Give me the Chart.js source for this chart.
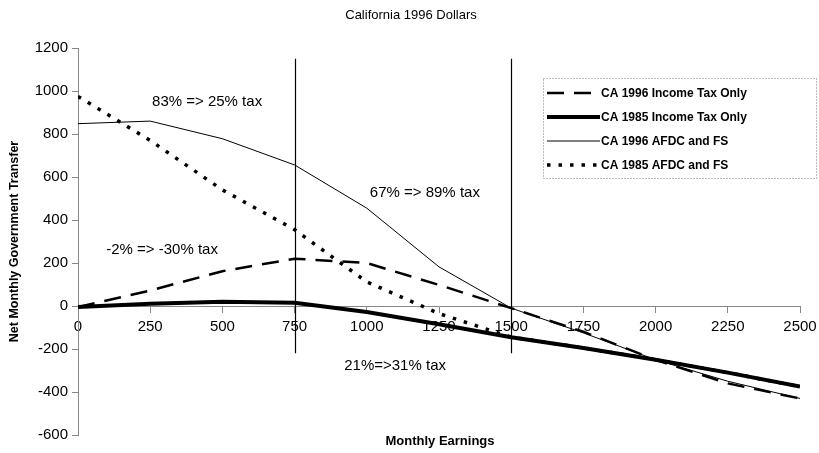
<!DOCTYPE html>
<html>
<head>
<meta charset="utf-8">
<script src="https://cdn.jsdelivr.net/npm/chart.js@4.4.1/dist/chart.umd.min.js"></script>
<style>
  html, body { margin: 0; padding: 0; background: #fff; }
  #wrap { width: 819px; height: 453px; position: relative; }
</style>
</head>
<body>
<div id="wrap"><canvas id="chart-area"></canvas></div>
<script>
// monthly earnings (x)
var earnings = [0, 250, 500, 750, 1000, 1250, 1500, 1750, 2000, 2250, 2500];

// net monthly government transfer
var ca96Tax  = [-5, 72, 162, 220, 200, 98, -10, -120, -250, -360, -430];
var ca85Tax  = [-5, 10, 20, 15, -28, -85, -145, -195, -250, -310, -375];
var ca96Afdc = [848, 860, 778, 656, 455, 182, -10, -125, -250, -350, -430];
var ca85Afdc = [975, 770, 540, 355, 112, -35, -145, -195, -250, -310, -375];

var seriesNames = ['CA 1996 Income Tax Only', 'CA 1985 Income Tax Only', 'CA 1996 AFDC and FS', 'CA 1985 AFDC and FS'];

var yTicks = { min: -600, max: 1200, step: 200 };
var xTicks = { min: 0, max: 2500, step: 250 };

// markers and notes
var cutoffs = [750, 1500];
var notes = [
    { text: '83% => 25% tax', x: 447, y: 950 },
    { text: '67% => 89% tax', x: 1201, y: 526 },
    { text: '-2% => -30% tax', x: 291, y: 260 },
    { text: '21%=>31% tax', x: 1098, y: -279 }
];

function pts(vals) {
    return vals.map(function(v, i) { return { x: earnings[i], y: v }; });
}

var styles = [
    { width: 2.5, dash: [17, 10] },
    { width: 4, dash: [] },
    { width: 1, dash: [] },
    { width: 3.5, dash: [3.5, 8] }
];
var allData = [ca96Tax, ca85Tax, ca96Afdc, ca85Afdc];

var datasets = allData.map(function(d, i) {
    return {
        label: seriesNames[i],
        data: pts(d),
        borderColor: '#000',
        borderWidth: styles[i].width,
        borderDash: styles[i].dash,
        pointRadius: 0,
        fill: false,
        tension: 0
    };
});

var extras = {
    id: 'extras',
    afterDatasetsDraw: function(chart) {
        var ctx = chart.ctx;
        var xs = chart.scales.x, ys = chart.scales.y;
        ctx.save();
        // vertical lines
        ctx.strokeStyle = '#000';
        ctx.lineWidth = 1.2;
        cutoffs.forEach(function(c) {
            var px = Math.round(xs.getPixelForValue(c)) + 0.5;
            ctx.beginPath();
            ctx.moveTo(px, ys.getPixelForValue(1150));
            ctx.lineTo(px, ys.getPixelForValue(-220));
            ctx.stroke();
        });
        // notes
        ctx.fillStyle = '#000';
        ctx.font = '15px "Liberation Sans", Arial, sans-serif';
        ctx.textAlign = 'center';
        ctx.textBaseline = 'middle';
        notes.forEach(function(n) {
            ctx.fillText(n.text, xs.getPixelForValue(n.x), ys.getPixelForValue(n.y));
        });
        // title
        ctx.font = '13px "Liberation Sans", Arial, sans-serif';
        ctx.fillText('California 1996 Dollars', 411, 15);
        // x title
        ctx.font = 'bold 13px "Liberation Sans", Arial, sans-serif';
        ctx.fillText('Monthly Earnings', 440, 441);

        // legend
        ctx.setLineDash([1, 2]);
        ctx.lineWidth = 1;
        ctx.strokeStyle = '#777';
        ctx.strokeRect(543.5, 78.5, 273, 100);
        ctx.font = 'bold 12px "Liberation Sans", Arial, sans-serif';
        ctx.textAlign = 'left';
        datasets.forEach(function(ds, i) {
            var y = 93 + i * 24;
            ctx.strokeStyle = '#000';
            ctx.lineWidth = ds.borderWidth;
            ctx.setLineDash(ds.borderDash);
            ctx.beginPath();
            ctx.moveTo(547, y);
            ctx.lineTo(600, y);
            ctx.stroke();
            ctx.fillText(ds.label, 601, y + 1);
        });
        ctx.restore();
    }
};

function plain(v) { return String(v); }

var config = {
    type: 'line',
    data: { datasets: datasets },
    options: {
        responsive: true,
        maintainAspectRatio: false,
        animation: false,
        layout: { padding: { left: 0, right: 19, top: 48, bottom: 18 } },
        plugins: { legend: { display: false }, title: { display: false }, tooltip: { enabled: false } },
        scales: {
            x: {
                type: 'linear',
                position: { y: 0 },
                min: xTicks.min,
                max: xTicks.max,
                ticks: { stepSize: xTicks.step, callback: plain, color: '#000', font: { size: 15, family: '"Liberation Sans", Arial' }, maxRotation: 0, padding: 6 },
                grid: { drawOnChartArea: false, color: '#888', tickLength: 6 },
                border: { color: '#888' },
                afterFit: function(scale) { scale.paddingRight = 0; scale.paddingLeft = 0; }
            },
            y: {
                min: yTicks.min,
                max: yTicks.max,
                ticks: { stepSize: yTicks.step, callback: plain, color: '#000', font: { size: 15, family: '"Liberation Sans", Arial' }, padding: 4 },
                grid: { drawOnChartArea: false, color: '#888', tickLength: 6 },
                border: { color: '#888' },
                title: { display: true, text: 'Net Monthly Government Transfer', color: '#000', font: { size: 12.5, weight: 'bold', family: '"Liberation Sans", Arial' }, padding: { top: 7, bottom: 0 } },
                afterFit: function(scale) { scale.width = 78; }
            }
        }
    },
    plugins: [extras]
};

window.onload = function() {
    var ctx = document.getElementById('chart-area').getContext('2d');
    window.myLine = new Chart(ctx, config);
};
</script>
</body>
</html>
